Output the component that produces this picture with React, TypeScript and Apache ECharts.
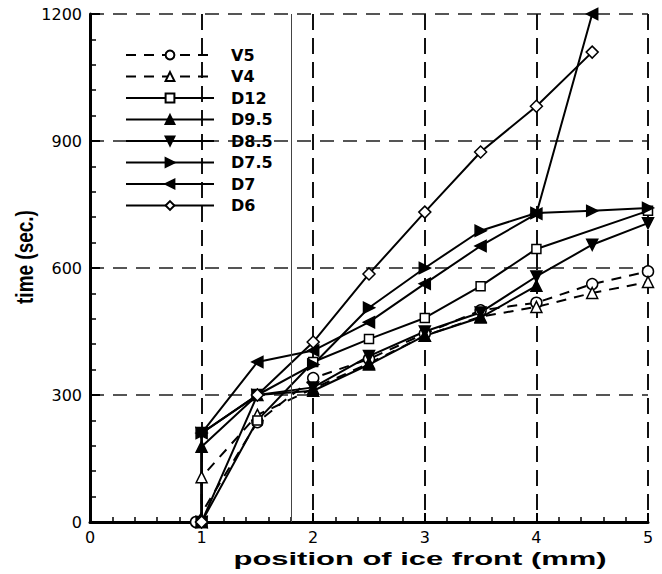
import React, { useEffect, useRef } from "react";
import * as echarts from "echarts";

// ---- data ----
const seriesNames = ["V5", "V4", "D12", "D9.5", "D8.5", "D7.5", "D7", "D6"];

const v5X = [0.95, 1.5, 2, 2.5, 3, 3.5, 4, 4.5, 5];
const v5Y = [0, 236, 340, 385, 445, 500, 518, 562, 592];

const v4X = [1, 1, 1.5, 2, 2.5, 3, 3.5, 4, 4.5, 5];
const v4Y = [0, 106, 253, 315, 375, 440, 485, 508, 541, 567];

const d12X = [1, 1.5, 2, 2.5, 3, 3.5, 4, 5];
const d12Y = [0, 240, 378, 432, 482, 557, 645, 735];

const d95X = [1, 1, 1.5, 2, 2.5, 3, 3.5, 4];
const d95Y = [0, 178, 300, 310, 372, 440, 483, 558];

const d85X = [1, 1, 1.5, 2, 2.5, 3, 3.5, 4, 4.5, 5];
const d85Y = [0, 210, 300, 318, 392, 450, 495, 580, 655, 706];

const d75X = [1, 1, 1.5, 2, 2.5, 3, 3.5, 4, 4.5, 5];
const d75Y = [0, 210, 300, 372, 506, 600, 688, 730, 735, 742];

const d7X = [1, 1, 1.5, 2, 2.5, 3, 3.5, 4, 4.5];
const d7Y = [0, 210, 378, 405, 472, 563, 652, 728, 1200];

const d6X = [1, 1.5, 2, 2.5, 3, 3.5, 4, 4.5];
const d6Y = [0, 300, 425, 586, 732, 874, 982, 1110];

const iceFrontRef = 1.8;

const xMin = 0, xMax = 5, xStep = 1;
const yMin = 0, yMax = 1200, yStep = 300;

const xTitle = "position of ice front (mm)";
const yTitle = "time (sec.)";

const FONT = '"DejaVu Sans", "Liberation Sans", sans-serif';
const TITLE_FONT = '"Liberation Sans", Arial, sans-serif';

type Spec = {
  name: string;
  xs: number[];
  ys: number[];
  symbol: string;
  rotate?: number;
  open?: boolean;
  dashed?: boolean;
  size?: number;
};

const specs: Spec[] = [
  { name: seriesNames[0], xs: v5X, ys: v5Y, symbol: "circle", open: true, dashed: true, size: 11 },
  { name: seriesNames[1], xs: v4X, ys: v4Y, symbol: "triangle", open: true, dashed: true, size: 11 },
  { name: seriesNames[2], xs: d12X, ys: d12Y, symbol: "rect", open: true, size: 9 },
  { name: seriesNames[3], xs: d95X, ys: d95Y, symbol: "triangle", size: 11 },
  { name: seriesNames[4], xs: d85X, ys: d85Y, symbol: "triangle", rotate: 180, size: 11 },
  { name: seriesNames[5], xs: d75X, ys: d75Y, symbol: "triangle", rotate: -90, size: 11 },
  { name: seriesNames[6], xs: d7X, ys: d7Y, symbol: "triangle", rotate: 90, size: 11 },
  { name: seriesNames[7], xs: d6X, ys: d6Y, symbol: "diamond", open: true, size: 12 },
];

function buildSeries() {
  return specs.map((s, idx) => {
    const base: any = {
      type: "line",
      name: s.name,
      data: s.xs.map((x, i) => [x, s.ys[i]]),
      symbol: s.symbol,
      symbolSize: s.size,
      symbolRotate: s.rotate || 0,
      showAllSymbol: true,
      clip: false,
      z: 3,
      lineStyle: {
        color: "#000",
        width: 2,
        type: s.dashed ? [10, 8] : "solid",
      },
      itemStyle: {
        color: s.open ? "#fff" : "#000",
        borderColor: "#000",
        borderWidth: 1.5,
      },
      emphasis: { disabled: true },
    };
    if (idx === 0) {
      base.markLine = {
        silent: true,
        symbol: "none",
        label: { show: false },
        lineStyle: { color: "#444", width: 1, type: "solid" },
        data: [{ xAxis: iceFrontRef }],
      };
    }
    return base;
  });
}

export default function App() {
  const ref = useRef<HTMLDivElement>(null);

  useEffect(() => {
    if (!ref.current) return;
    const chart = echarts.init(ref.current, undefined, { renderer: "svg" });
    chart.setOption({
      animation: false,
      backgroundColor: "#fff",
      grid: { left: 90, right: 14, top: 14, bottom: 52, containLabel: false },
      legend: {
        orient: "vertical",
        left: 125,
        top: 47,
        padding: 0,
        itemWidth: 88,
        itemHeight: 11,
        itemGap: 5.5,
        selectedMode: false,
        data: seriesNames,
        textStyle: {
          fontFamily: FONT,
          fontWeight: "bold",
          fontSize: 16,
          lineHeight: 16,
          color: "#000",
          padding: [0, 0, 0, 12],
        },
      },
      xAxis: {
        type: "value",
        min: xMin,
        max: xMax,
        interval: xStep,
        axisLine: { show: true, onZero: false, lineStyle: { color: "#000", width: 3 } },
        axisTick: { show: true, inside: true, length: 9, lineStyle: { color: "#000", width: 2 } },
        minorTick: { show: true, splitNumber: 5, length: 5, lineStyle: { color: "#000", width: 1.5 } },
        splitLine: { show: true, lineStyle: { color: "#111", width: 2, type: [16, 8] } },
        axisLabel: { color: "#000", fontSize: 16, fontFamily: FONT, margin: 7 },
      },
      yAxis: {
        type: "value",
        min: yMin,
        max: yMax,
        interval: yStep,
        axisLine: { show: true, onZero: false, lineStyle: { color: "#000", width: 3 } },
        axisTick: { show: true, inside: true, length: 10, lineStyle: { color: "#000", width: 2 } },
        minorTick: { show: true, splitNumber: 5, length: 6, lineStyle: { color: "#000", width: 1.5 } },
        splitLine: { show: true, lineStyle: { color: "#555", width: 2, type: [14, 9] } },
        axisLabel: {
          color: "#000",
          fontSize: 16,
          fontFamily: FONT,
          margin: 8,
          formatter: (v: number) => String(v),
        },
      },
      graphic: [
        {
          type: "group",
          x: 420,
          y: 559,
          scaleX: 1.72,
          silent: true,
          children: [
            {
              type: "text",
              style: {
                text: xTitle,
                fontFamily: TITLE_FONT,
                fontWeight: "bold",
                fontSize: 18,
                fill: "#000",
                align: "center",
                verticalAlign: "middle",
                textAlign: "center",
                textVerticalAlign: "middle",
              },
            },
          ],
        },
        {
          type: "group",
          x: 25,
          y: 257,
          scaleX: 1.3,
          silent: true,
          children: [
            {
              type: "text",
              rotation: Math.PI / 2,
              style: {
                text: yTitle,
                fontFamily: TITLE_FONT,
                fontWeight: "bold",
                fontSize: 19,
                fill: "#000",
                align: "center",
                verticalAlign: "middle",
                textAlign: "center",
                textVerticalAlign: "middle",
              },
            },
          ],
        },
      ],
      series: buildSeries(),
    });
    return () => chart.dispose();
  }, []);

  return (
    <div
      ref={ref}
      style={{ position: "absolute", left: 0, top: 0, width: 662, height: 574, background: "#fff" }}
    />
  );
}
